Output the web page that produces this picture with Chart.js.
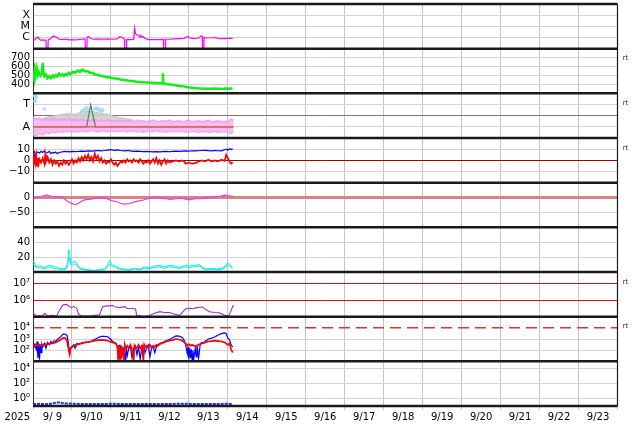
<!DOCTYPE html>
<html>
<head>
<meta charset="utf-8">
<script src="https://cdn.jsdelivr.net/npm/chart.js@4.4.1/dist/chart.umd.min.js"></script>
<style>
  html, body { margin: 0; padding: 0; background: #fff; }
</style>
</head>
<body>
<canvas id="chart" width="634" height="424"></canvas>
<script>
// time axis: hours since 2025-09-09 00:00 UT, 15 days shown
const dayLabels = ['9/ 9', '9/10', '9/11', '9/12', '9/13', '9/14', '9/15', '9/16',
                   '9/17', '9/18', '9/19', '9/20', '9/21', '9/22', '9/23'];

// panel 1: X-ray flux (W/m2)
const xrayFlux = [[0,5.3e-7],[1,6e-7],[2,9e-7],[3,1.1e-6],[4,7e-7],[5,5.5e-7],[6,6e-7],[7.5,5.8e-7],[8,6e-7],[8.2,1.1e-7],[9.2,1.1e-7],[9.4,6.5e-7],[10.5,7e-7],[12,1.2e-6],[13,1.3e-6],[14,1.1e-6],[15,9e-7],[16,7e-7],[18,6.5e-7],[20,7e-7],[22,6.2e-7],[24,6.5e-7],[26,6e-7],[28,6.5e-7],[30,7e-7],[32,7.5e-7],[32.3,1.1e-7],[33.2,1.1e-7],[33.4,1.1e-6],[34.5,1.2e-6],[35.5,8e-7],[37,7e-7],[40,7.5e-7],[43,7e-7],[46,7.5e-7],[49,7e-7],[52,7.5e-7],[53.5,1.2e-6],[55,1e-6],[56.3,7e-7],[56.5,1.1e-7],[57.5,1.1e-7],[57.7,6.5e-7],[60,6.5e-7],[62,6.8e-7],[62.6,7e-6],[63.2,2e-6],[64.3,1.7e-6],[65,1.5e-6],[66,1.1e-6],[66.5,1.5e-6],[67.3,1e-6],[68,1.2e-6],[69,8e-7],[71,6.5e-7],[74,6.5e-7],[77,6.5e-7],[80.3,6.8e-7],[80.5,1.1e-7],[81.5,1.1e-7],[81.7,7e-7],[84,7e-7],[87,7.5e-7],[90,8e-7],[93,8.5e-7],[94.5,1.1e-6],[95.5,1.2e-6],[96.5,9e-7],[99,8e-7],[102,9e-7],[103.5,1.4e-6],[104.2,1.3e-6],[104.4,1.1e-7],[105.2,1.1e-7],[105.4,1e-6],[107,9e-7],[110,9.5e-7],[112,1e-6],[114,8.5e-7],[117,8e-7],[120,8.5e-7],[123,8.2e-7]];

// panel 2: solar wind speed (km/s)
const windSpeed = [[0,520],[0.5,480],[1,560],[1.5,500],[2.3,580],[3,510],[3.5,540],[4.5,500],[5.5,530],[6,640],[6.5,520],[7,490],[8,510],[9,470],[10,490],[11,470],[12,500],[13,480],[14,505],[15,490],[16,520],[17,500],[18,515],[19,495],[20,515],[21,505],[22,530],[23,515],[24.5,540],[26,530],[27.5,555],[29,540],[30.5,565],[32,545],[33.5,550],[35,530],[36.7,530],[38,510],[40,508],[41.5,495],[43,495],[45,480],[47,482],[49,470],[51.5,466],[54,455],[56.5,450],[59,440],[61,437],[64,430],[67,425],[70,420],[72,420],[74,415],[76,417],[78,412],[79.8,415],[80,525],[80.3,410],[82,405],[84,400],[86,395],[88,390],[90,383],[92.7,378],[94.5,370],[96.4,365],[99,360],[101,357],[103,355],[106,350],[108,352],[110,350],[112,353],[114.8,350],[116.5,348],[118.6,355],[121,352],[122.9,356]];

// panel 3: level index (A = 1, T = 3)
const pinkTop = [[0,1.9],[2,1.7],[4,1.8],[6,1.6],[8,1.75],[10,1.6],[12,1.8],[14,1.7],[16,1.6],[18,1.75],[20,1.65],[22,1.8],[24,1.6],[26,1.7],[28,1.55],[30,1.7],[32,1.6],[34,1.5],[36,1.6],[38,1.7],[40,1.55],[42,1.6],[44,1.5],[46,1.65],[48,1.55],[50,1.5],[52,1.6],[54,1.45],[56,1.6],[58,1.5],[60,1.55],[62,1.45],[64,1.6],[66,1.5],[68,1.55],[70,1.45],[72,1.5],[74,1.6],[76,1.5],[78,1.45],[80,1.55],[82,1.5],[84,1.6],[86,1.45],[88,1.5],[90,1.55],[92,1.45],[94,1.5],[96,1.6],[98,1.45],[100,1.5],[102,1.55],[104,1.45],[106,1.5],[108,1.6],[110,1.45],[112,1.5],[114,1.55],[116,1.45],[118,1.5],[120,1.45],[122,1.7],[123.5,1.6]];
const pinkBottom = [[0,0.3],[2,0.2],[4,0.4],[6,0.25],[8,0.5],[10,0.4],[12,0.55],[14,0.45],[16,0.6],[18,0.5],[20,0.55],[22,0.6],[24,0.5],[26,0.6],[28,0.55],[30,0.65],[32,0.55],[34,0.6],[36,0.7],[38,0.6],[40,0.55],[42,0.65],[44,0.6],[46,0.55],[48,0.65],[50,0.6],[52,0.55],[54,0.6],[56,0.65],[58,0.55],[60,0.6],[62,0.65],[64,0.55],[66,0.6],[68,0.5],[70,0.6],[72,0.55],[74,0.6],[76,0.65],[78,0.55],[80,0.6],[82,0.5],[84,0.6],[86,0.55],[88,0.65],[90,0.55],[92,0.6],[94,0.5],[96,0.6],[98,0.55],[100,0.6],[102,0.5],[104,0.55],[106,0.6],[108,0.5],[110,0.55],[112,0.6],[114,0.5],[116,0.55],[118,0.6],[120,0.5],[122,0.4],[123.5,0.6]];
const grayTop = [[6,1.7],[10,1.9],[14,2.0],[18,2.1],[22,2.2],[26,2.1],[30,2.3],[34,2.4],[38,2.3],[42,2.2],[46,2.1],[50,1.9],[54,1.8],[58,1.7],[62,1.6]];
const grayBottom = [[6,1.5],[10,1.5],[14,1.5],[18,1.5],[22,1.5],[26,1.5],[30,1.5],[34,1.5],[38,1.5],[42,1.5],[46,1.5],[50,1.5],[54,1.5],[58,1.5],[62,1.5]];
const bluePoints = [[1,3.8],[1.5,3.5],[2,3.7],[1.2,3.3],[7,2.6],[31,2.5],[32,2.6],[33,2.7],[34,2.5],[38,2.6],[39,2.7],[40,2.5],[41,2.6],[42,2.4],[30,2.4],[43,2.5]];
const levelLine = [[0,1],[33,1],[35.5,2.95],[38.5,1],[123.5,1]];
const alertLine = [[0,1],[123.5,1]];

// panel 4: IMF Bt and Bz (nT)
const imfBt = [[0,6.5],[1,8],[1.5,3.8],[2,6],[3,7.5],[4,6.5],[5,8],[6,7],[7,8.5],[8,6.5],[9,7],[10,8],[11,6],[12,7],[13,6.5],[14,7.5],[15,6],[16,7],[18,7.5],[20,8],[22,7.5],[24,8],[26,7.8],[28,8],[30,8.3],[32,8],[34,8.5],[36,8.2],[38,8.5],[40,8.8],[42,8.5],[44,8.8],[46,9.2],[48,9.5],[50,9],[52,9.3],[54,8.8],[56,8.5],[58,8.8],[60,8.5],[62,8],[64,8.2],[66,8],[68,7.8],[70,8],[72,7.8],[74,7.5],[76,7.8],[78,7.5],[80,7.8],[82,8],[84,7.7],[86,8],[88,8.3],[90,8],[92,8.3],[94,8.5],[96,8.3],[98,8.6],[100,8.4],[102,8.6],[104,8.8],[106,9],[108,8.7],[110,8.5],[112,8.8],[114,8.6],[116,8.5],[118,9.5],[119,10],[120,9],[121,10.5],[122,9.8],[123,10.2]];
const imfBz = [[0,3],[0.5,-4],[1,6],[1.5,-2],[2,4],[2.5,-5],[3,2],[3.5,-3],[4,1],[5,-2],[6,2],[7,-3],[7.5,5],[8,-1],[9,3],[10,-2],[11,1],[12,-4],[13,0],[14,-3],[15,-1],[16,-5],[17,-2],[18,-4],[19,0],[20,-3],[21,-1],[22,-4],[23,-2],[24,1],[25,-3],[26,0],[27,-2],[28,2],[29,-1],[30,3],[31,0],[32,4],[33,1],[34,5],[35,0],[36,3],[37,-1],[38,6],[39,1],[40,4],[41,-1],[42,2],[43,-2],[44,0],[45,-3],[46,-1],[47,-2],[48,1],[49,-2],[50,-4],[51,-2],[52,-5],[53,-3],[54,-1],[55,-2],[56,0],[57,-2],[58,1],[59,-1],[60,0],[61,-2],[62,1],[63,-1],[64,0],[65,-2],[66,1],[67,-1],[68,-3],[69,-1],[70,-2],[71,0],[72,-3],[73,-1],[74,1],[75,-2],[76,2],[77,-3],[78,0],[79,-4],[80,-1],[81,1],[82,-3],[83,0],[84,-2],[86,-1],[88,0],[90,-1],[92,0],[93,-1],[94,-3],[96,-2],[98,-3],[100,-2.5],[102,-1],[104,0],[106,-1],[108,0.5],[110,-1],[112,0],[114,-1],[116,0.5],[118,-0.5],[119,5],[120,2],[121,-1],[122,-3],[123,-2]];

// panel 5: Dst (nT)
const dst = [[0,-3],[2,-1],[4.1,2],[6,5],[8.4,9],[10.3,6],[13.4,2],[15.5,3],[17.7,0],[19.5,-5],[21,-12],[22.6,-17],[24.5,-21],[26.3,-24],[27.5,-20],[28.7,-17],[30,-12],[31.8,-8],[34,-6],[36.1,-5],[38.5,-2],[41,0],[43,-2],[45.4,-3],[47,-7],[49,-11],[50.5,-13],[52.1,-15],[54,-19],[55.8,-22],[57.5,-21],[59.5,-20],[61.5,-16],[63.8,-13],[65.5,-11],[67.5,-9],[69.5,-5],[71.8,-2],[74,0],[76.1,2],[78,0],[79.8,-3],[82,-4],[84.1,-6],[86,-5],[88.4,-4],[90,-3],[92.1,-3],[94,-5],[96.4,-8],[98.5,-5],[100.7,-3],[102.5,-4],[104.4,-3],[106.5,-1],[108.7,0],[111,1],[113,3],[115.5,5],[118,8],[120,7],[121.7,5],[123,4]];

// panel 6: density (two channels)
const densityA = [[0,15],[1,12],[2.3,7],[4.1,9],[5.5,7],[7.2,6],[8.8,8],[10.3,9],[12,8],[13.4,7],[15,6],[16.4,5],[18.3,4],[20.1,5],[21.4,12],[22,30],[22.6,25],[23.2,14],[24.4,12],[25.7,15],[26.9,12],[28.7,6],[30,5],[31.8,4],[34.9,3],[38,2],[41,3.5],[44.1,4],[46,10],[47.2,15],[49,9],[51,8],[53.4,5],[56.4,4],[59.5,3.5],[62.6,5],[65.7,4],[68.7,7],[71.8,6],[74.9,8],[78,9],[81,7],[84.1,9],[87.2,8],[90.3,6],[93.4,9],[96.4,8],[99.5,9],[102.6,10],[104.4,6],[106.9,4],[110,5],[113,4],[116.1,5],[118.6,8],[119.8,12],[121,10],[122.9,7]];
const densityB = [[0,11],[1,9],[2.3,5],[4.1,6],[5.5,5],[7.2,4],[8.8,6],[10.3,7],[12,6],[13.4,5],[15,4],[16.4,3.5],[18.3,3],[20.1,3.5],[21.4,8],[22,20],[22.6,17],[23.2,10],[24.4,9],[25.7,11],[26.9,9],[28.7,4],[30,3.5],[31.8,3],[34.9,2],[38,1.5],[41,2.5],[44.1,3],[46,7],[47.2,11],[49,7],[51,6],[53.4,4],[56.4,3],[59.5,2.5],[62.6,4],[65.7,3],[68.7,5],[71.8,4.5],[74.9,6],[78,7],[81,5],[84.1,7],[87.2,6],[90.3,4.5],[93.4,7],[96.4,6],[99.5,7],[102.6,8],[104.4,4.5],[106.9,3],[110,3.5],[113,3],[116.1,3.5],[118.6,6],[119.8,9],[121,8],[122.9,5]];

// panel 7: electron flux
const electrons = [[0,2e5],[1,1.3e5],[2.5,1.1e5],[4.1,1.15e5],[5.5,1.05e5],[7.2,1.6e5],[9,1.1e5],[10.5,1.15e5],[12.1,1.2e5],[14.6,1.1e5],[16.4,2.5e5],[18.3,5e5],[20.7,5.5e5],[22.6,4e5],[23.8,3.5e5],[25,4.2e5],[26.9,3.2e5],[28.1,1.4e5],[30,1.1e5],[31.8,1.1e5],[34.9,1.05e5],[38,1.2e5],[41,1.3e5],[42.9,4e5],[45.4,4.5e5],[47.2,4.5e5],[49,4.8e5],[50.3,4e5],[51.5,3.8e5],[53.4,3.5e5],[56.4,4e5],[58.3,3e5],[61.4,3.2e5],[63.2,2.8e5],[63.8,1.2e5],[67,1.05e5],[70.5,1.05e5],[74.9,1.6e5],[78,2e5],[81,1.8e5],[84.1,1.8e5],[87.2,1.4e5],[90.3,1.2e5],[94,3e5],[96.4,3.2e5],[98.5,3e5],[100.7,3.5e5],[104.4,3.8e5],[106.9,2.5e5],[108.7,2e5],[111.8,1.8e5],[114.9,1.7e5],[118,1.2e5],[120.5,1.1e5],[121.7,2e5],[122.9,3.8e5],[123.5,5e5]];
const electronAlerts = [1e6, 1e7];

// panel 8: proton flux, two channels
const protonHigh = [[0,525],[1,300],[2,120],[2.5,600],[3,20],[3.5,400],[4,14],[4.5,300],[5,60],[5.5,350],[6,200],[7,400],[8,150],[9,500],[10,300],[11,600],[12,450],[13,700],[14,600],[15,900],[16,1200],[17,1600],[18,2300],[19,2900],[20,2700],[21,2000],[21.8,400],[22.4,80],[23,150],[24,200],[25,300],[26,150],[27,400],[28,350],[30,450],[32,500],[34,550],[36,650],[38,900],[40,1300],[42,1700],[44,1700],[46,1600],[48,900],[49,600],[50,500],[51,400],[52,200],[52.5,30],[53,300],[53.5,15],[54,250],[54.5,20],[55,200],[55.5,40],[56,180],[57,12],[57.5,200],[58,30],[59,150],[60,200],[61,20],[62,150],[63,250],[64,40],[65,200],[66,15],[67,150],[68,250],[69,60],[70,200],[71,300],[72,25],[73,150],[74,200],[75,60],[76,200],[77,300],[78,400],[80,500],[82,700],[84,900],[86,1300],[88,1900],[90,1800],[92,1400],[93,800],[94,300],[95,50],[95.5,200],[96,15],[96.5,150],[97,20],[97.5,120],[98,12],[98.5,100],[99,15],[100,150],[100.5,25],[101,300],[102,20],[103,350],[104,500],[105,400],[106,600],[108,1000],[110,1200],[112,1500],[114,2300],[116,3000],[118,3500],[119,3000],[120,1200],[121,900],[122,300],[123,200]];
const protonLow = [[0,300],[1,200],[2,350],[3,250],[4,300],[6,280],[8,350],[10,380],[12,400],[14,500],[16,700],[18,1100],[19,1300],[20,1200],[21,600],[22,100],[22.6,40],[23.2,150],[24,180],[25,250],[26,300],[28,320],[30,400],[32,500],[34,520],[36,600],[38,700],[40,800],[42,850],[44,800],[46,700],[48,550],[50,450],[51,400],[52,200],[52.5,12],[53,250],[54,14],[54.5,200],[55,150],[56,12],[56.5,300],[57,150],[58,250],[59,150],[60,300],[61,120],[62,12],[62.5,250],[63,180],[64,150],[65,300],[66,150],[67,250],[68,12],[68.5,300],[69,200],[70,250],[71,150],[72,300],[73,180],[74,250],[75,200],[76,300],[77,250],[78,350],[80,450],[82,600],[84,700],[86,800],[88,1000],[90,900],[92,700],[94,400],[95,250],[96,350],[97,250],[98,300],[100,200],[102,300],[104,400],[106,500],[108,600],[110,650],[112,700],[114,650],[116,600],[118,500],[120,300],[121,400],[122,120],[123,60]];
const protonAlert = [[0,1e4],[360,1e4]];

// panel 9: high-energy channel
const highEnergy = [[0,0.18],[4,0.2],[8,0.17],[12,0.22],[14,0.28],[16,0.3],[18,0.25],[20,0.22],[24,0.2],[30,0.19],[40,0.18],[50,0.2],[60,0.18],[70,0.19],[80,0.18],[90,0.2],[100,0.19],[110,0.18],[120,0.2],[123,0.19]];

// axis ticks per panel
const xrayTicks = [1e-6, 1e-5, 1e-4], xrayTickLabels = ['C', 'M', 'X'];
const speedTicks = [400, 500, 600, 700];
const levelTicks = [1, 2, 3], levelTickLabels = ['A', '', 'T'];
const imfTicks = [-10, 0, 10], imfTickLabels = ['\u221210', '0', '10'];
const dstTicks = [-50, 0], dstTickLabels = ['\u221250', '0'];
const densityTicks = [20, 40];
const electronTicks = [1e6, 1e7], electronTickLabels = ['10\u2076', '10\u2077'];
const protonTicks = [1e2, 1e3, 1e4], protonTickLabels = ['10\u00b2', '10\u00b3', '10\u2074'];
const highTicks = [1, 1e2, 1e4], highTickLabels = ['10\u2070', '10\u00b2', '10\u2074'];

const GRID = '#d2d2d2';
const font = { family: 'DejaVu Sans', size: 10 };

const panels = [
  { type: 'logarithmic', min: 1e-7, max: 1e-3, ticks: xrayTicks, labels: xrayTickLabels, font: { family: 'DejaVu Sans', size: 11 } },
  { type: 'linear', min: 300, max: 800, ticks: speedTicks, labels: speedTicks.map(String), rt: true },
  { type: 'linear', min: 0, max: 4, ticks: levelTicks, labels: levelTickLabels, rt: true,
    font: { family: 'DejaVu Sans', size: 11 }, gridColor: v => v === 2 ? '#777' : GRID },
  { type: 'linear', min: -20, max: 20, ticks: imfTicks, labels: imfTickLabels, rt: true,
    gridColor: v => v === 0 ? '#9a0000' : GRID },
  { type: 'linear', min: -100, max: 50, ticks: dstTicks, labels: dstTickLabels,
    gridColor: v => v === 0 ? '#d98282' : GRID, gridWidth: v => v === 0 ? 3 : 1 },
  { type: 'linear', min: 0, max: 60, ticks: densityTicks, labels: densityTicks.map(String) },
  { type: 'logarithmic', min: 1e5, max: 5e7, ticks: electronTicks, labels: electronTickLabels, rt: true,
    gridColor: v => electronAlerts.includes(v) ? '#cc1111' : GRID },
  { type: 'logarithmic', min: 10, max: 1e5, ticks: protonTicks, labels: protonTickLabels, rt: true,
    gridColor: v => v === 1e4 ? 'rgba(0,0,0,0)' : GRID },
  { type: 'logarithmic', min: 0.1, max: 1e5, ticks: highTicks, labels: highTickLabels }
];

const scales = {
  x: {
    type: 'linear', min: 0, max: 360,
    afterBuildTicks: s => { s.ticks = Array.from({ length: 31 }, (_, i) => ({ value: i * 12 })); },
    afterFit: s => { s.height = 18; s.paddingLeft = 0; s.paddingRight = 0; },
    ticks: {
      autoSkip: false, maxRotation: 0, padding: 1, color: '#000', font,
      callback: v => (v % 24 === 12 ? dayLabels[(v - 12) / 24] : '')
    },
    grid: {
      color: c => (c.tick && c.tick.value % 24 === 0 ? '#c4c4c4' : 'rgba(0,0,0,0)'),
      tickLength: 4
    },
    border: { display: false }
  }
};
panels.forEach((p, i) => {
  scales['y' + i] = {
    type: p.type, min: p.min, max: p.max,
    position: 'left', stack: 'panels', stackWeight: 1, weight: 9 - i,
    afterBuildTicks: s => { s.ticks = p.ticks.map(v => ({ value: v })); },
    afterFit: s => { s.width = 33; s.paddingTop = 0; s.paddingBottom = 0; },
    ticks: {
      autoSkip: false, padding: 3, color: '#000', font: p.font || font,
      callback: v => p.labels[p.ticks.indexOf(v)]
    },
    grid: {
      drawTicks: false,
      color: c => (p.gridColor && c.tick ? p.gridColor(c.tick.value) : GRID),
      lineWidth: c => (p.gridWidth && c.tick ? p.gridWidth(c.tick.value) : 1)
    },
    border: { display: true, color: '#333', width: 1 }
  };
});

const pts = arr => arr.map(([x, y]) => ({ x, y }));
const line = (data, axis, color, width, extra) =>
  Object.assign({ data: pts(data), yAxisID: axis, borderColor: color, borderWidth: width,
                  pointRadius: 0, fill: false, tension: 0 }, extra || {});

const datasets = [
  line(xrayFlux, 'y0', '#ff00ff', 1.2),
  line(windSpeed, 'y1', '#11ee11', 2.5),
  line(alertLine, 'y2', '#e06464', 1.5),
  line(levelLine, 'y2', '#4f8a5a', 1.3),
  line(bluePoints, 'y2', 'rgba(0,0,0,0)', 0, { showLine: false, pointRadius: 1.8,
       pointBackgroundColor: '#a8dcf6', pointBorderWidth: 0 }),
  line(pinkTop, 'y2', 'rgba(245,150,235,0.85)', 1.5, { fill: '+1', backgroundColor: 'rgba(248,170,238,0.8)' }),
  line(pinkBottom, 'y2', 'rgba(245,150,235,0.85)', 1.5),
  line(grayTop, 'y2', 'rgba(200,200,200,0.95)', 1.5, { fill: '+1', backgroundColor: 'rgba(208,208,208,0.9)' }),
  line(grayBottom, 'y2', 'rgba(200,200,200,0.95)', 1),
  line(imfBz, 'y3', '#ff0000', 1.7),
  line(imfBt, 'y3', '#0000ff', 1.2),
  line(dst, 'y4', '#e040e0', 1.2),
  line(densityA, 'y5', '#00f0f0', 1),
  line(densityB, 'y5', '#00e8e8', 1),
  line(electrons, 'y6', '#9933cc', 1.1),
  line(protonAlert, 'y7', '#dd3333', 1.5, { borderDash: [11, 6] }),
  line(protonLow, 'y7', '#ff0000', 1.7),
  line(protonHigh, 'y7', '#0000ff', 1.2),
  line(highEnergy, 'y8', '#1030ee', 2, { borderDash: [3, 1] })
];

const frame = {
  id: 'frame',
  afterDraw(chart) {
    const { ctx, chartArea: a } = chart;
    ctx.save();
    ctx.strokeStyle = '#1a1a1a';
    ctx.lineWidth = 2.5;
    panels.forEach((p, i) => {
      const s = chart.scales['y' + i];
      ctx.beginPath(); ctx.moveTo(a.left, s.top); ctx.lineTo(a.right, s.top); ctx.stroke();
      if (i === panels.length - 1) {
        ctx.beginPath(); ctx.moveTo(a.left, s.bottom); ctx.lineTo(a.right, s.bottom); ctx.stroke();
      }
    });
    ctx.lineWidth = 1.2;
    ctx.beginPath(); ctx.moveTo(a.right, a.top); ctx.lineTo(a.right, a.bottom); ctx.stroke();
    ctx.fillStyle = '#333';
    ctx.font = '7px DejaVu Sans';
    ctx.textBaseline = 'middle';
    panels.forEach((p, i) => {
      if (p.rt) ctx.fillText('rt', a.right + 5, chart.scales['y' + i].top + 10);
    });
    ctx.fillStyle = '#000';
    ctx.font = '10px DejaVu Sans';
    ctx.textAlign = 'right';
    ctx.fillText('2025', a.left - 3, chart.scales.x.top + 11);
    ctx.restore();
  }
};

new Chart(document.getElementById('chart'), {
  type: 'line',
  data: { datasets },
  options: {
    responsive: false,
    devicePixelRatio: 1,
    animation: false,
    layout: { padding: { top: 3, right: 16.5, left: 0, bottom: 0 } },
    plugins: { legend: { display: false }, tooltip: { enabled: false } },
    scales
  },
  plugins: [frame]
});
</script>
</body>
</html>
